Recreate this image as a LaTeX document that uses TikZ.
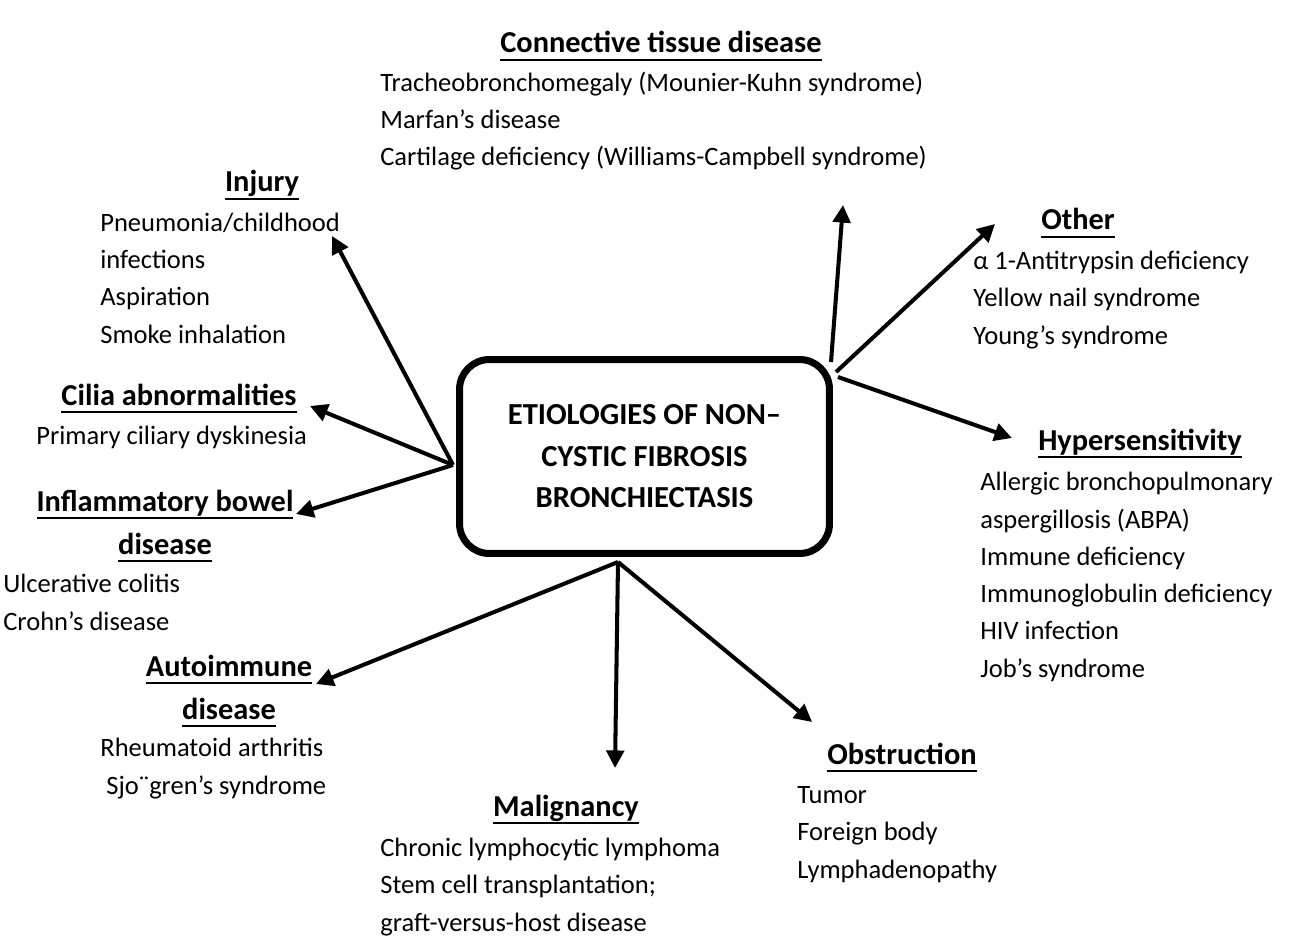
\documentclass[tikz,border=0pt]{standalone}
\usepackage{fontspec}
\setmainfont{Carlito}
\usetikzlibrary{arrows.meta}
\newcommand\hul[1]{\setbox0\hbox{#1}\leavevmode\rlap{\vrule width\wd0 height -3.2pt depth 4.7pt}\box0}
\begin{document}
\begin{tikzpicture}[x=0.02cm,y=-0.02cm,
  txt/.style={font=\fontsize{15.1}{21.2}\selectfont, inner sep=0pt, align=left, anchor=base west},
  head/.style={font=\fontsize{17.3}{24.4}\selectfont\bfseries, inner sep=0pt, align=center, anchor=base},
  arr/.style={line width=2.3pt, -{Triangle[length=10pt,width=10pt]}},
  hub/.style={draw, line width=4pt, rounded corners=17pt, minimum width=7.4cm, minimum height=3.88cm,
    align=center, font=\fontsize{17.4}{23.6}\selectfont\bfseries}]
\useasboundingbox (0,0) rectangle (1300,942);

\node[hub] (hub) at (644.5,456.5) {ETIOLOGIES OF NON--\\CYSTIC FIBROSIS\\BRONCHIECTASIS};

% headings and item lists (multi-line nodes are anchored at their last baseline)
\node[head] (hct) at (661,53) {\hul{Connective tissue disease}};
\node[txt] (bct) at (380,166) {Tracheobronchomegaly (Mounier-Kuhn syndrome)\\Marfan’s disease\\Cartilage deficiency (Williams-Campbell syndrome)};

\node[head] (hinj) at (262,192) {\hul{Injury}};
\node[txt] (binj) at (100,343) {Pneumonia/childhood\\infections\\Aspiration\\Smoke inhalation};

\node[head] (hcil) at (179,405) {\hul{Cilia abnormalities}};
\node[txt] (bcil) at (36,444) {Primary ciliary dyskinesia};

\node[head] (hibd) at (165,554) {\hul{Inflammatory bowel}\\\hul{disease}};
\node[txt] (bibd) at (3,630) {Ulcerative colitis\\Crohn’s disease};

\node[head] (hai) at (229,719) {\hul{Autoimmune}\\\hul{disease}};
\node[txt] (bai) at (100,794) {Rheumatoid arthritis\\\hspace*{3.4pt}Sjo¨gren’s syndrome};

\node[head] (hmal) at (566,816) {\hul{Malignancy}};
\node[txt] (bmal) at (380,931) {Chronic lymphocytic lymphoma\\Stem cell transplantation;\\graft-versus-host disease};

\node[head] (hobs) at (902,764) {\hul{Obstruction}};
\node[txt] (bobs) at (797,878) {Tumor\\Foreign body\\Lymphadenopathy};

\node[head] (hoth) at (1078,230) {\hul{Other}};
\node[txt] (both) at (973,344) {α 1-Antitrypsin deficiency\\Yellow nail syndrome\\Young’s syndrome};

\node[head] (hhyp) at (1140,450) {\hul{Hypersensitivity}};
\node[txt] (bhyp) at (980,677) {Allergic bronchopulmonary\\aspergillosis (ABPA)\\Immune deficiency\\Immunoglobulin deficiency\\HIV infection\\Job’s syndrome};

% arrow start and end points
\coordinate (sR1) at (831,362);
\coordinate (sR2) at (836,372);
\coordinate (sR3) at (838,377);
\coordinate (sB) at (618,562);
\coordinate (sL) at (453,465);
\coordinate (tct) at (843,205);
\coordinate (toth) at (995,224);
\coordinate (thyp) at (1012,438);
\coordinate (tobs) at (812,722);
\coordinate (tmal) at (615,768);
\coordinate (tai) at (316,684);
\coordinate (tibd) at (296,514);
\coordinate (tcil) at (310,406);
\coordinate (tinj) at (332,236);

\draw[arr] (sR1) -- (tct);
\draw[arr] (sR2) -- (toth);
\draw[arr] (sR3) -- (thyp);
\draw[arr] (sB) -- (tobs);
\draw[arr] (sB) -- (tmal);
\draw[arr] (sB) -- (tai);
\draw[arr] (sL) -- (tibd);
\draw[arr] (sL) -- (tcil);
\draw[arr] (sL) -- (tinj);
\end{tikzpicture}
\end{document}
